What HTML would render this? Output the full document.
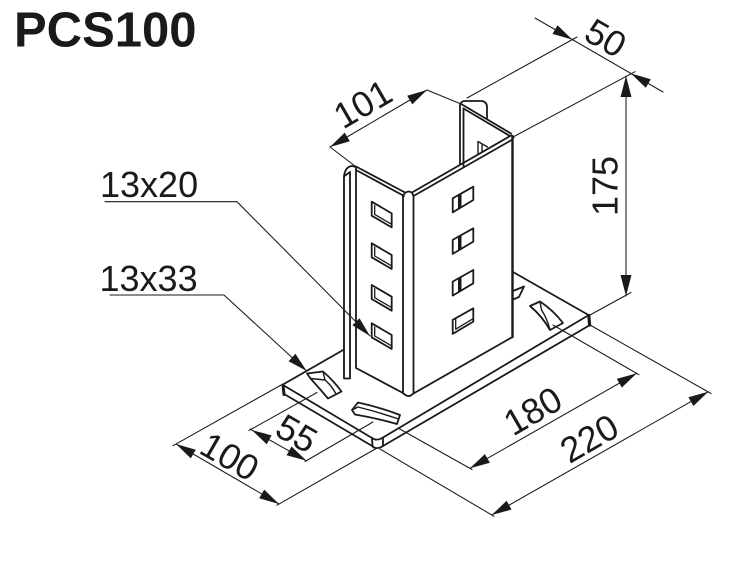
<!DOCTYPE html>
<html><head><meta charset="utf-8">
<style>
html,body{margin:0;padding:0;background:#fff;}
svg{display:block;}
text{font-family:"Liberation Sans",Arial,sans-serif;fill:#1a1a1a;}
</style></head><body>
<svg width="730" height="561" viewBox="0 0 730 561" xmlns="http://www.w3.org/2000/svg">
<rect width="730" height="561" fill="#fff"/>

<!-- Title -->
<text x="14" y="46.5" font-size="49" font-weight="bold">PCS100</text>

<!-- Labels -->
<text x="100" y="197" font-size="36">13x20</text>
<text x="99.5" y="291" font-size="36">13x33</text>

<!-- ===== Plate ===== -->
<g fill="none" stroke="#1a1a1a" stroke-width="1.8" stroke-linejoin="round" stroke-linecap="round">
  <path d="M283,385 L372,438 M285,394.5 L373,446.5 M383,437.5 L588,315.5 M383,446 L590,325 M513,272 L588.5,315 M283,384.5 L344,349.5"/>
  <path d="M372,438 Q377,441.5 383,437.5 M372,438 L372.5,446.5 M383,437.5 L383,446 M372.5,446.5 Q377,450 383,446"/>
  <path d="M283,385 L284,394.5" stroke-width="3"/>
  <path d="M588.8,315.5 L589.6,325" stroke-width="3.2"/>

  <!-- plate slots -->
  <path d="M307,373.5 L323,371.5 Q333,380 341.5,391.5 L328,398.5 Q320,389 310.5,378.5 Z"/>
  <path d="M310.5,378.5 L325,380 M323,371.5 L325,380 Q332,386 336,394" stroke-width="1.4"/>
  <path d="M358,402.5 Q379,407 400,415 L397,424 Q376,418 355,414.5 L352,410 Z"/>
  <path d="M352,410 L358,407 Q378,412 398.5,419" stroke-width="1.4"/>
  <path d="M530,306 L540,301.5 Q553,310 563,323 L550,330 Q542,316 530,306 Z"/>
  <path d="M540,301.5 L541.5,310 Q547,318 550,330" stroke-width="1.4"/>
  <path d="M513,291 L524,286.5 L519,297 L513,299.5"/>
</g>

<!-- ===== Post ===== -->
<g fill="none" stroke="#1a1a1a" stroke-width="1.8" stroke-linejoin="round" stroke-linecap="round">
  <path d="M344,378.5 L344,176 Q345.5,166.5 352,166 L356,167 M350,172 L350,378.5 M344,378.5 L350,378.5 M344.5,176 L350,172"/>
  <path d="M356,167 L356,368 M356,166.5 L405,192.5 M356,170 L404,196 M356,368 L403,393"/>
  <path d="M403,196 L403,393 M413.5,196 L413.5,393.5 M403,196 Q405,191.5 409,191.5 Q412.5,192 413.5,196 M403,393 Q406,396.5 410,396 L413.5,393.5"/>
  <path d="M412,192.5 L511,135.5 M413.5,196 L512.5,139.5 M413.5,393.5 L512.5,337"/>
  <path d="M512.5,137 L512.5,337" stroke-width="2.4"/>
  <path d="M511,135.5 Q513.5,135.5 513.5,138"/>
  <path d="M462,104.5 L511,133.5 M463.5,108.5 L510,136"/>
  <path d="M460,164 L460,105 Q461,101 465,101 L482,101 Q487,102 487,107 L487,118 M463.5,166 L463.5,108.5"/>
  <path d="M478,154 L478,141.5 L487.5,147 M482,152 L482,145" stroke-width="1.4"/>

  <polygon points="371.7,201.7 391.7,213.4 391.7,227.4 371.7,215.7"/>
  <path d="M374.7,205.5 L374.7,214.4 L391.7,224.3" stroke-width="1.3"/>
  <polygon points="371.7,243.3 391.7,255 391.7,269 371.7,257.3"/>
  <path d="M374.7,247.1 L374.7,256 L391.7,265.9" stroke-width="1.3"/>
  <polygon points="371.7,285 391.7,296.7 391.7,310.7 371.7,299"/>
  <path d="M374.7,288.8 L374.7,297.7 L391.7,307.6" stroke-width="1.3"/>
  <polygon points="371.7,323.3 391.7,335 391.7,349 371.7,337.3"/>
  <path d="M374.7,327.1 L374.7,336 L391.7,345.9" stroke-width="1.3"/>

  <polygon points="452.7,198.3 473.3,186.7 473.3,200 452.7,212.3"/>
  <polygon points="452.7,239.9 473.3,228.3 473.3,241.6 452.7,253.9"/>
  <polygon points="452.7,281.6 473.3,270 473.3,283.3 452.7,295.6"/>
  <polygon points="452.7,319.9 473.3,308.3 473.3,321.6 452.7,333.9"/>
  <path d="M455.7,318.2 L455.7,329.2 L473.3,318.6" stroke-width="1.3"/>
</g>
<g fill="#1a1a1a">
  <polygon points="458,195.3 461.5,193.3 461.5,207.3 458,209.3"/>
  <polygon points="458,236.9 461.5,234.9 461.5,248.9 458,250.9"/>
  <polygon points="458,278.6 461.5,276.6 461.5,290.6 458,292.6"/>
</g>

<!-- ===== Dimension lines ===== -->
<g fill="none" stroke="#1a1a1a" stroke-width="1.05" stroke-linecap="round">
  <path d="M330,147 L427,90 M330,147 L355,166 M427,90 L461,104"/>
  <path d="M535,18 L663,92 M467,98 L577,37 M513,137 L635,71.7"/>
  <path d="M626,76 L626,296 M590,315 L631,292.5"/>
  <path d="M176,444 L279,504 M173,445.7 L282,384.5 M277,505.2 L377,448"/>
  <path d="M250,429 L306.5,460.7 M249,430.5 L317,392.5 M305,461.5 L373,422"/>
  <path d="M470,468.3 L636.7,373.3 M398,428 L472,469.5 M553,325 L639,374.7"/>
  <path d="M491.7,515 L708.3,391.7 M380,449 L494,516.3 M590,325 L711,393.5"/>
  <path d="M105,201.7 L237,201.7 L370,336 M110,295 L224,295 L306.7,371"/>
</g>

<!-- Arrowheads -->
<g fill="#1a1a1a" stroke="none">
  <polygon points="330,147 349.8,141.2 344.7,132.6"/>
  <polygon points="427,90 412.3,104.4 407.2,95.8"/>
  <polygon points="572.3,39.6 552.5,33.9 557.5,25.3"/>
  <polygon points="631,73.5 645.8,87.8 650.8,79.2"/>
  <polygon points="626,76 620.5,97 631.5,97"/>
  <polygon points="626,296 620.5,275 631.5,275"/>
  <polygon points="176,444 195.8,449.7 190.8,458.4"/>
  <polygon points="279,504 264.2,489.6 259.2,498.2"/>
  <polygon points="251.7,430 271.6,435.4 266.7,444.2"/>
  <polygon points="306.5,460.7 291.5,446.5 286.6,455.3"/>
  <polygon points="470,468.3 489.9,462.8 484.9,454.1"/>
  <polygon points="636.7,373.3 621.8,387.6 616.8,378.9"/>
  <polygon points="491.7,515 511.6,509.5 506.6,500.8"/>
  <polygon points="708.3,391.7 693.4,406 688.4,397.3"/>
  <polygon points="370,336 359.5,318.3 352.4,325.3"/>
  <polygon points="306.7,371 295.4,353.8 288.6,361.2"/>
</g>

<!-- Dimension text -->
<g font-size="36" text-anchor="middle">
  <text x="362.5" y="103.5" dy="0.36em" transform="rotate(-30 362.5 103.5)">101</text>
  <text x="606" y="37.5" dy="0.36em" transform="rotate(30 606 37.5)">50</text>
  <text x="604.5" y="186" dy="0.36em" transform="rotate(-90 604.5 186)">175</text>
  <text x="230" y="456" dy="0.36em" transform="rotate(30 230 456)">100</text>
  <text x="297" y="433" dy="0.36em" transform="rotate(30 297 433)">55</text>
  <text x="532.5" y="410.5" dy="0.36em" transform="rotate(-30 532.5 410.5)">180</text>
  <text x="589" y="438" dy="0.36em" transform="rotate(-30 589 438)">220</text>
</g>
</svg>
</body></html>
